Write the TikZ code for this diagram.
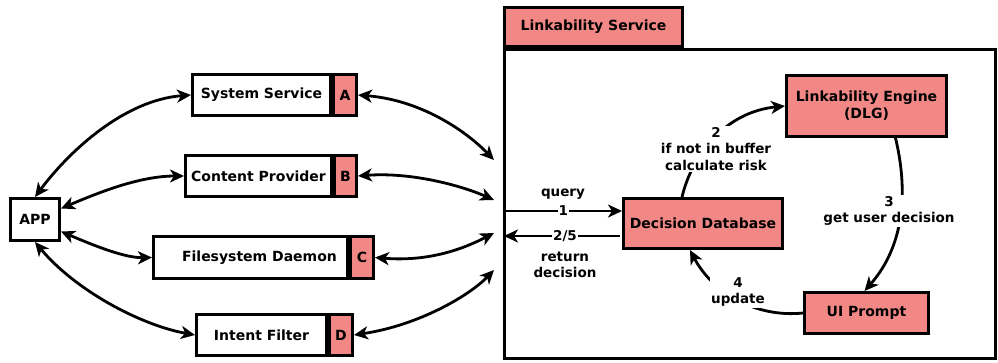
\documentclass[tikz,border=0pt]{standalone}
\usepackage{fontspec}
\setmainfont{DejaVu Sans}
\usetikzlibrary{arrows.meta,calc}
\definecolor{salmon}{RGB}{241,136,134}
\begin{document}
\begin{tikzpicture}[x=1pt,y=-1pt,
  box/.style={draw, line width=3pt, inner sep=0pt, font=\bfseries\fontsize{14}{17}\selectfont, align=center},
  wbox/.style={box, fill=white},
  rbox/.style={box, fill=salmon},
  lbl/.style={font=\bfseries\fontsize{13.5}{16.5}\selectfont, fill=white, inner sep=1pt, align=center},
  conn/.style={line width=2.8pt, -{Stealth[length=14pt,width=13pt,inset=4pt]}},
  dconn/.style={line width=2.8pt, {Stealth[length=14pt,width=13pt,inset=4pt]}-{Stealth[length=14pt,width=13pt,inset=4pt]}}
]
\useasboundingbox (0,0) rectangle (998,362);

% left side
\node[wbox, minimum width=49pt, minimum height=42pt] (app) at (35,219.5) {APP};
\node[wbox, minimum width=138pt, minimum height=41pt] (ss) at (261.5,95) {System Service};
\node[rbox, minimum width=23pt, minimum height=41pt] (sa) at (345,95) {A};
\node[wbox, minimum width=146pt, minimum height=41pt] (cp) at (258.5,176) {Content Provider};
\node[rbox, minimum width=22pt, minimum height=41pt] (sb) at (345.5,176) {B};
\node[wbox, minimum width=194pt, minimum height=42pt] (fd) at (250.5,257.5) {\hspace*{18pt}Filesystem Daemon};
\node[rbox, minimum width=23pt, minimum height=42pt] (sc) at (362,257.5) {C};
\node[wbox, minimum width=130pt, minimum height=41pt] (if) at (261.5,335) {Intent Filter};
\node[rbox, minimum width=23pt, minimum height=41pt] (sd) at (341,335) {D};

\coordinate (r1) at (494,160);
\coordinate (r2) at (494,200);
\coordinate (r3) at (494,233);
\coordinate (r4) at (494,270);

\draw[dconn] (app.north) .. controls (70,150) and (125,100) .. (ss.west);
\draw[dconn] ([yshift=11pt]app.east) .. controls (100,192) and (140,176) .. (cp.west);
\draw[dconn] ([yshift=-12pt]app.east) .. controls (95,246) and (125,258) .. (fd.west);
\draw[dconn] (app.south) .. controls (75,290) and (140,325) .. (if.west);

\draw[dconn] (sa.east) .. controls (420,100) and (465,130) .. (r1);
\draw[dconn] (sb.east) .. controls (410,172) and (460,185) .. (r2);
\draw[dconn] (sc.east) .. controls (430,262) and (465,248) .. (r3);
\draw[dconn] (sd.east) .. controls (420,325) and (470,295) .. (r4);

% right side
\node[box, minimum width=491pt, minimum height=309pt] (frame) at (750,204) {};
\node[rbox, minimum width=178pt, minimum height=39pt] (tab) at (593.5,27) {Linkability Service};
\node[rbox, minimum width=160pt, minimum height=61pt] (le) at (866.5,106) {Linkability Engine\\(DLG)};
\node[rbox, minimum width=159pt, minimum height=50pt] (dd) at (703,223.5) {Decision Database};
\node[rbox, minimum width=124pt, minimum height=41pt] (ui) at (866.5,313) {UI Prompt};

\coordinate (q) at (504.5,211);
\coordinate (rt) at (504,236);
\draw[conn] (q) -- (q -| dd.west) node[lbl, midway] (l1) {1};
\node[lbl] (lq) at (563,194) {query};
\draw[conn] ([xshift=-2pt]rt -| dd.west) -- (rt) node[lbl, midway, xshift=3pt] (l25) {2/5};
\node[lbl] (lr) at (565,265) {return\\decision};

\draw[conn] ($(dd.north)+(-21,0)$) .. controls (692,155) and (725,112) .. (le.west);
\node[lbl] (l2) at (716,149) {2\\if not in buffer\\calculate risk};

\draw[conn] ($(le.south)+(29,0)$) .. controls (908,190) and (905,245) .. ($(ui.north)+(-2,0)$);
\node[lbl] (l3) at (889,211) {3\\get user decision};

\draw[conn] (ui.west) .. controls (755,318) and (712,292) .. ($(dd.south)+(-13,0)$);
\node[lbl] (l4) at (738,292) {4\\update};
\end{tikzpicture}
\end{document}
